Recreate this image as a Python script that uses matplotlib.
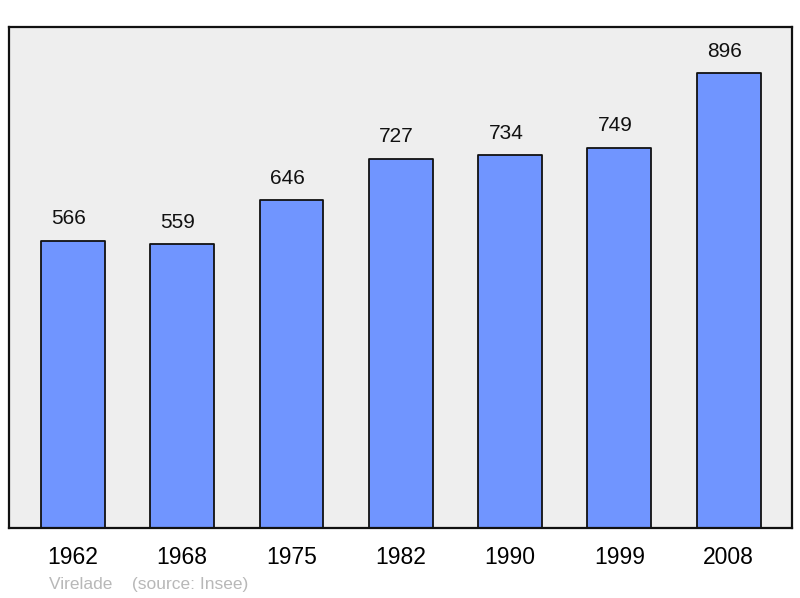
import matplotlib.pyplot as plt

plt.rcParams['font.family'] = ['Liberation Sans', 'DejaVu Sans']

# population data (Virelade)
years = ['1962', '1968', '1975', '1982', '1990', '1999', '2008']
population = [566, 559, 646, 727, 734, 749, 896]

fig = plt.figure(figsize=(8, 5.98), dpi=100)
ax = fig.add_axes([9/800, 70/598, 783/800, 501/598])
ax.set_facecolor('#eeeeee')

x = list(range(len(years)))
bars = ax.bar(x, population, width=0.585, color='#7095ff', edgecolor='#111111',
              linewidth=1.3, joinstyle='round')

for xi, v in zip(x, population):
    ax.annotate(str(v), (xi, v), xytext=(-3, 9), textcoords='offset points',
                ha='center', va='bottom', fontsize=15, color='#111111')

ax.set_xlim(-0.585, 6.58)
ax.set_ylim(0, 987)
ax.set_xticks(x)
ax.set_xticklabels(years, fontsize=16.5)
ax.tick_params(axis='x', length=0, pad=13)
ax.set_yticks([])
for s in ax.spines.values():
    s.set_linewidth(1.6)
    s.set_color('#111111')

fig.text(49/800, 1 - 584/598, 'Virelade    (source: Insee)', fontsize=12.5,
         color='#b8b8b8', va='center', ha='left')

fig.savefig('out.png', dpi=100)
